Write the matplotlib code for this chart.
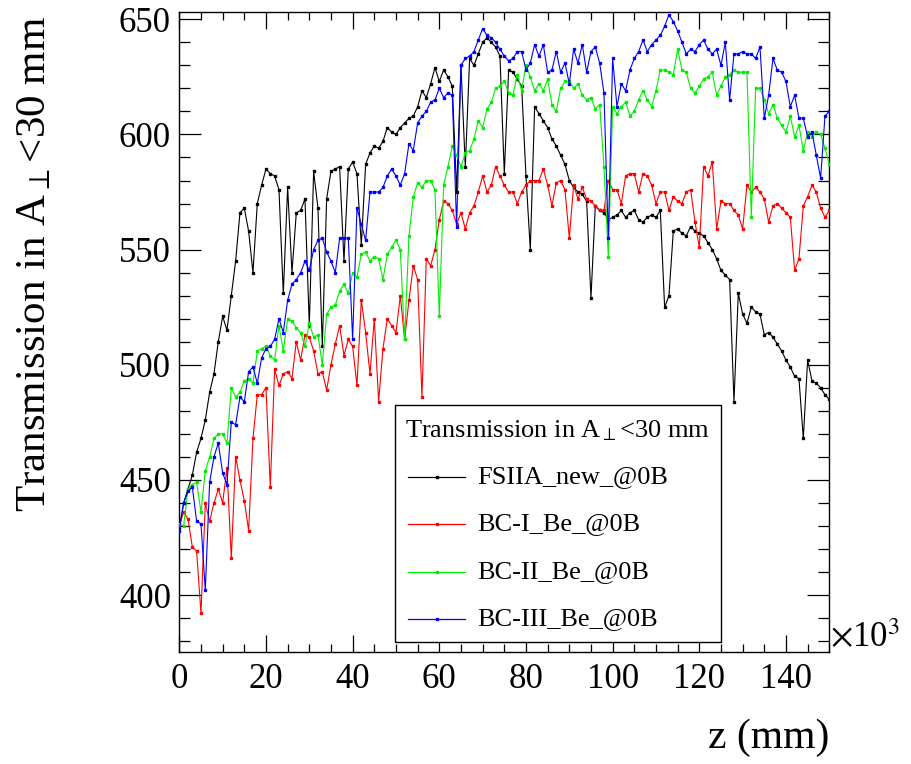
import numpy as np
import matplotlib
matplotlib.use("Agg")
import matplotlib.pyplot as plt
from matplotlib.patches import Rectangle
from matplotlib.lines import Line2D
from matplotlib.ticker import MultipleLocator

plt.rcParams['font.family'] = ['Liberation Serif', 'DejaVu Serif']
plt.rcParams['mathtext.fontset'] = 'stix'

# z positions in units of 10^3 mm
z = list(range(0, 151))

fsiia_new = [429, 440, 446, 452, 462, 468, 476, 488, 496, 510, 521, 515, 530, 545, 566, 568, 558, 540, 570, 578,
             585, 583, 582, 576, 531, 577, 540, 566, 567, 572, 517, 584, 568, 508, 572, 584, 585, 586, 545, 585,
             588, 583, 552, 587, 592, 595, 594, 597, 603, 601, 600, 603, 605, 607, 608, 612, 619, 616, 622, 629,
             623, 628, 625, 621, 575, 630, 586, 633, 630, 635, 640, 642, 640, 638, 634, 583, 628, 627, 624, 621,
             582, 550, 612, 609, 606, 603, 598, 595, 591, 587, 580, 577, 575, 574, 571, 529, 569, 567, 566, 563,
             564, 565, 567, 564, 566, 567, 563, 562, 564, 565, 564, 567, 525, 530, 558, 559, 557, 556, 560, 558,
             557, 556, 553, 550, 546, 541, 539, 537, 484, 531, 522, 518, 525, 523, 522, 513, 514, 512, 509, 506,
             502, 499, 495, 494, 468, 502, 493, 492, 490, 487, 485]

bc1_be = [430, 436, 433, 421, 419, 392, 440, 432, 440, 446, 440, 455, 416, 460, 450, 441, 428, 468, 487, 487,
          490, 447, 498, 491, 496, 497, 494, 510, 502, 513, 512, 506, 496, 497, 489, 500, 509, 517, 504, 511,
          508, 491, 528, 514, 496, 520, 484, 507, 520, 517, 514, 530, 511, 528, 543, 537, 486, 546, 543, 550,
          563, 571, 570, 567, 561, 566, 559, 566, 569, 575, 582, 575, 578, 586, 582, 578, 575, 575, 570, 575,
          578, 580, 580, 580, 585, 578, 569, 579, 580, 576, 555, 578, 572, 577, 572, 571, 569, 567, 567, 580,
          576, 576, 570, 582, 583, 583, 575, 583, 582, 578, 570, 575, 575, 567, 573, 571, 570, 575, 576, 562,
          551, 586, 582, 588, 559, 571, 570, 570, 567, 565, 559, 578, 575, 577, 575, 572, 562, 569, 570, 568,
          566, 564, 541, 546, 569, 573, 578, 575, 568, 564, 567]

bc2_be = [431, 430, 446, 448, 449, 436, 454, 460, 468, 470, 470, 466, 490, 486, 488, 493, 494, 492, 506, 507,
          508, 504, 502, 517, 506, 520, 519, 516, 514, 508, 518, 512, 513, 500, 522, 525, 526, 532, 535, 531,
          540, 538, 548, 549, 545, 547, 546, 537, 548, 551, 554, 550, 511, 556, 573, 579, 577, 580, 580, 576,
          521, 578, 586, 595, 591, 586, 592, 593, 598, 606, 603, 611, 614, 620, 621, 623, 618, 617, 626, 619,
          630, 625, 619, 622, 619, 624, 613, 610, 620, 623, 623, 620, 622, 617, 615, 616, 611, 613, 586, 547,
          612, 609, 612, 614, 608, 610, 615, 619, 615, 612, 619, 628, 628, 627, 626, 637, 628, 627, 620, 618,
          621, 624, 625, 627, 617, 621, 625, 626, 628, 627, 627, 627, 564, 620, 620, 615, 609, 613, 607, 604,
          601, 608, 599, 604, 593, 601, 599, 601, 600, 594, 587]

bc3_be = [428, 440, 445, 447, 432, 431, 402, 449, 460, 466, 453, 448, 475, 474, 486, 484, 497, 499, 492, 503,
          507, 508, 511, 520, 514, 528, 535, 537, 540, 545, 541, 550, 554, 555, 549, 545, 540, 555, 555, 555,
          511, 568, 561, 554, 575, 575, 575, 577, 582, 585, 582, 578, 583, 596, 593, 605, 608, 610, 614, 615,
          620, 616, 618, 617, 560, 630, 633, 634, 636, 641, 646, 643, 642, 640, 637, 634, 632, 633, 636, 636,
          628, 631, 639, 634, 639, 627, 628, 636, 627, 631, 622, 637, 631, 639, 627, 636, 638, 631, 618, 555,
          633, 612, 622, 619, 628, 633, 636, 641, 636, 639, 641, 643, 647, 652, 649, 645, 640, 635, 637, 636,
          639, 641, 637, 635, 637, 630, 640, 615, 635, 635, 636, 635, 635, 633, 638, 607, 617, 633, 628, 627,
          623, 612, 617, 607, 607, 599, 601, 591, 581, 608, 610]

series_names = ["FSIIA_new_@0B", "BC-I_Be_@0B", "BC-II_Be_@0B", "BC-III_Be_@0B"]
series_colors = ["#000000", "#ff0000", "#00ee00", "#0000ff"]
series_data = [fsiia_new, bc1_be, bc2_be, bc3_be]

W, H = 912, 764
fig = plt.figure(figsize=(W / 100, H / 100), dpi=100)

def fx(px):
    return px / W

def fy(py):
    return 1 - py / H

ax = fig.add_axes([fx(179.3), fy(651.7), 650 / W, 640 / H])

order = [1, 2, 3, 0]
for i in order:
    ax.plot(z, series_data[i], color=series_colors[i], lw=0.8, marker='s', ms=2.0,
            mec=series_colors[i], mfc=series_colors[i], zorder=2 + i)

ax.set_xlim(0, 150)
ax.set_ylim(375.4, 653.3)

ax.xaxis.set_major_locator(MultipleLocator(20))
ax.xaxis.set_minor_locator(MultipleLocator(5))
ax.yaxis.set_major_locator(MultipleLocator(50))
ax.yaxis.set_minor_locator(MultipleLocator(10))

ax.tick_params(axis='x', which='major', direction='in', length=12, width=0.9, top=True, bottom=True,
               labelsize=25, pad=8)
ax.tick_params(axis='x', which='minor', direction='in', length=6, width=0.9, top=True, bottom=True)
ax.tick_params(axis='y', which='major', direction='in', length=16, width=0.9, left=True, right=True,
               labelsize=25, pad=6)
ax.tick_params(axis='y', which='minor', direction='in', length=8, width=0.9, left=True, right=True)
for s in ax.spines.values():
    s.set_linewidth(1.0)

# axis titles (ROOT style, aligned at axis ends)
fig.text(fx(35), fy(16), "Transmission in A$_{\\perp}$<30 mm", rotation=90, ha='center', va='top',
         fontsize=31)
fig.text(fx(829), fy(757), "z (mm)", ha='right', va='bottom', fontsize=30)
fig.text(fx(830), fy(655), "$\\times$10$^{3}$", ha='left', va='bottom', fontsize=25)

# legend box
bx0, by0, bx1, by1 = 395, 405, 720.7, 641.7
fig.patches.append(Rectangle((fx(bx0), fy(by1)), (bx1 - bx0) / W, (by1 - by0) / H,
                             transform=fig.transFigure, facecolor='white', edgecolor='black',
                             lw=1.0, zorder=10))
fig.text(fx(405), fy(431), "Transmission in A$_{\\perp}$<30 mm", ha='left', va='center',
         fontsize=19, zorder=11)
entry_y = [477, 524, 572, 619]
for name, col, ey in zip(series_names, series_colors, entry_y):
    fig.lines.append(Line2D([fx(408), fx(465)], [fy(ey), fy(ey)], transform=fig.transFigure,
                            color=col, lw=0.9, zorder=11))
    fig.lines.append(Line2D([fx(437)], [fy(ey)], transform=fig.transFigure, color=col,
                            marker='s', ms=2.0, zorder=12))
    fig.text(fx(477), fy(ey), name, ha='left', va='center', fontsize=19, zorder=11)

fig.savefig("out.png", dpi=100, facecolor='white')
